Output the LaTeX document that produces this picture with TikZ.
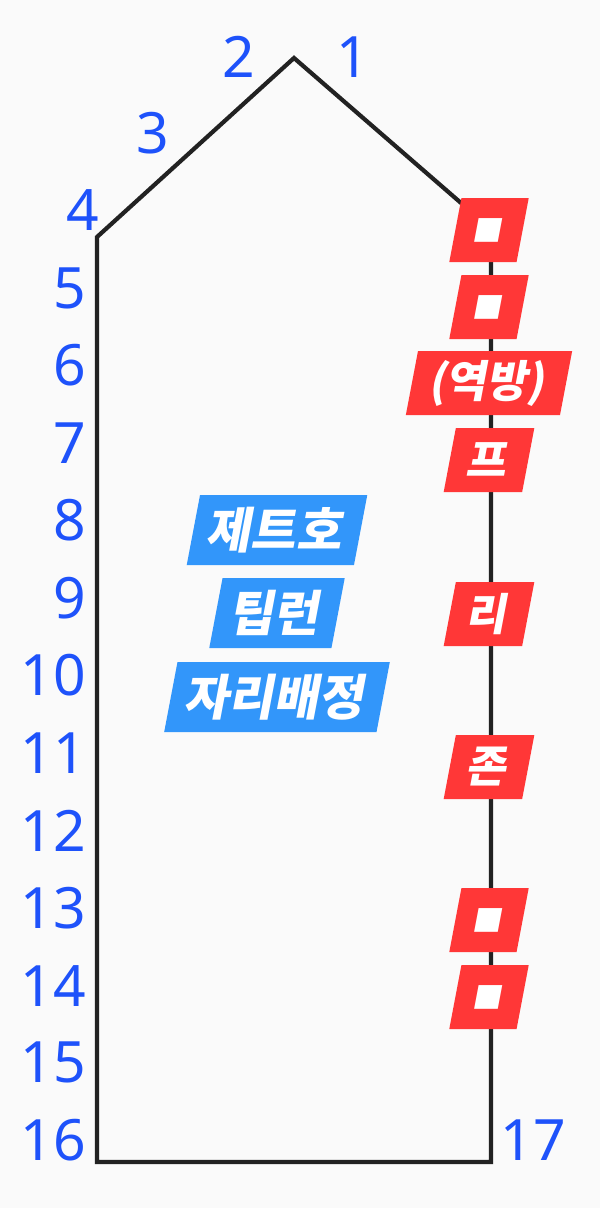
\documentclass[tikz,border=0pt]{standalone}
\usepackage{fontspec}
\setmainfont{Noto Sans}
\newfontfamily\kr{Noto Sans CJK KR}
\newfontfamily\sym{DejaVu Sans}
\usetikzlibrary{positioning}
\definecolor{numblue}{RGB}{30,82,250}
\definecolor{boxred}{RGB}{255,55,55}
\definecolor{boxblue}{RGB}{50,150,250}
\definecolor{wallgray}{RGB}{34,34,34}

\begin{document}
\begin{tikzpicture}[x=1pt,y=-1pt,
	num/.style={text=numblue,inner sep=0pt,font=\fontsize{57}{57}\selectfont},
	tag/.style={xslant=0.19,text=white,inner xsep=19pt,inner ysep=0pt,minimum height=64pt,font=\kr\bfseries\fontsize{44}{44}\selectfont},
	redbox/.style={tag,fill=boxred},
	sqbox/.style={redbox,minimum width=66pt,font=\sym\fontsize{31}{31}\selectfont},
	bluebox/.style={tag,fill=boxblue,inner xsep=16pt,minimum height=70pt,font=\kr\bfseries\fontsize{49}{49}\selectfont},
	wall/.style={draw=wallgray,line width=4.2pt}]
	\fill[black!2] (0,0) rectangle (600,1208);
	\useasboundingbox (0,0) rectangle (600,1208);
	% outline
	\coordinate (top) at (294,58);
	\coordinate (eave r) at (491,229);
	\coordinate (eave l) at (97,237);
	\coordinate (foot l) at (97,1162);
	\coordinate (foot r) at (491,1162);
	\draw[wall] (top)--(eave r)--(foot r)--(foot l)--(eave l)--cycle;
	% numbers
	\node[num] (n1) at (353,57) {1};
	\node[num] (n2) at (239,57) {2};
	\node[num] (n3) at (153,133) {3};
	\node[num] (n4) at (83,210) {4};
	\node[num,anchor=east] (n5) at (86,288) {5};
	\node[num,anchor=east] (n6) at (86,365) {6};
	\node[num,anchor=east] (n7) at (86,443) {7};
	\node[num,anchor=east] (n8) at (86,520) {8};
	\node[num,anchor=east] (n9) at (86,598) {9};
	\node[num,anchor=east] (n10) at (86,675) {10};
	\node[num,anchor=east] (n11) at (86,753) {11};
	\node[num,anchor=east] (n12) at (86,831) {12};
	\node[num,anchor=east] (n13) at (86,908) {13};
	\node[num,anchor=east] (n14) at (86,986) {14};
	\node[num,anchor=east] (n15) at (86,1062) {15};
	\node[num,anchor=east] (n16) at (86,1140) {16};
	\node[num] (n17) at (533,1140) {17};
	% red tags on the right wall
	\node[sqbox] (r1) at (489,230) {■};
	\node[sqbox] (r2) at (489,307) {■};
	\node[redbox] (r3) at (489,383) {(역방)};
	\node[redbox] (r4) at (489,460) {프};
	\node[redbox] (r5) at (489,614) {리};
	\node[redbox] (r6) at (489,767) {존};
	\node[sqbox] (r7) at (489,920) {■};
	\node[sqbox] (r8) at (489,997) {■};
	% blue tags
	\node[bluebox] (b1) at (277,530) {제트호};
	\node[bluebox] (b2) at (277,613) {팁런};
	\node[bluebox] (b3) at (277,697) {자리배정};
\end{tikzpicture}
\end{document}
